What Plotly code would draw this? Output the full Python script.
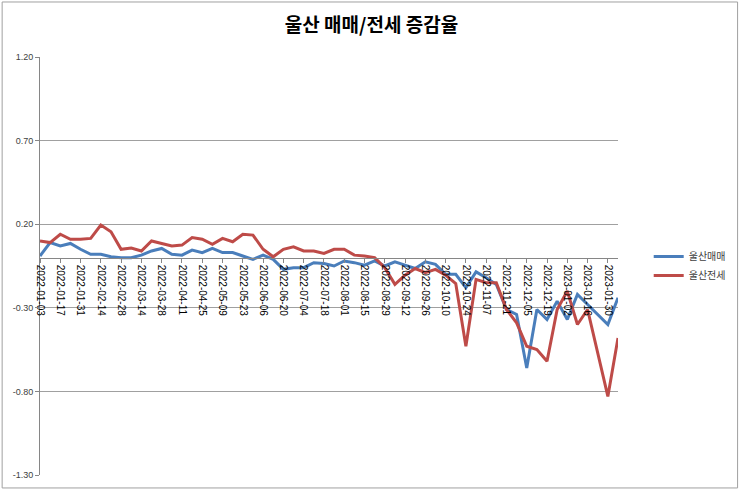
import plotly.graph_objects as go

dates = [
    "2022-01-03", "2022-01-10", "2022-01-17", "2022-01-24", "2022-01-31",
    "2022-02-07", "2022-02-14", "2022-02-21", "2022-02-28",
    "2022-03-07", "2022-03-14", "2022-03-21", "2022-03-28",
    "2022-04-04", "2022-04-11", "2022-04-18", "2022-04-25",
    "2022-05-02", "2022-05-09", "2022-05-16", "2022-05-23", "2022-05-30",
    "2022-06-06", "2022-06-13", "2022-06-20", "2022-06-27",
    "2022-07-04", "2022-07-11", "2022-07-18", "2022-07-25",
    "2022-08-01", "2022-08-08", "2022-08-15", "2022-08-22", "2022-08-29",
    "2022-09-05", "2022-09-12", "2022-09-19", "2022-09-26",
    "2022-10-03", "2022-10-10", "2022-10-17", "2022-10-24", "2022-10-31",
    "2022-11-07", "2022-11-14", "2022-11-21", "2022-11-28",
    "2022-12-05", "2022-12-12", "2022-12-19", "2022-12-26",
    "2023-01-02", "2023-01-09", "2023-01-16", "2023-01-23", "2023-01-30",
    "2023-02-06",
]

sale = [
    0.01, 0.09, 0.07, 0.085, 0.05, 0.02, 0.02, 0.005, 0.00, 0.00,
    0.015, 0.04, 0.055, 0.02, 0.015, 0.045, 0.03, 0.055, 0.03, 0.03,
    0.01, -0.01, 0.015, -0.01, -0.07, -0.06, -0.06, -0.03, -0.035, -0.05,
    -0.02, -0.03, -0.045, -0.02, -0.05, -0.025, -0.045, -0.065, -0.025, -0.04,
    -0.10, -0.10, -0.18, -0.085, -0.12, -0.16, -0.31, -0.34, -0.66, -0.31,
    -0.37, -0.26, -0.37, -0.22, -0.28, -0.34, -0.40, -0.24,
]

jeonse = [
    0.10, 0.09, 0.14, 0.11, 0.11, 0.115, 0.195, 0.155, 0.05, 0.057,
    0.04, 0.10, 0.085, 0.07, 0.075, 0.12, 0.11, 0.08, 0.115, 0.095,
    0.14, 0.135, 0.05, 0.005, 0.05, 0.065, 0.04, 0.04, 0.025, 0.05,
    0.05, 0.015, 0.01, 0.0, -0.06, -0.16, -0.105, -0.065, -0.09, -0.07,
    -0.105, -0.155, -0.53, -0.13, -0.15, -0.15, -0.31, -0.39, -0.53, -0.55,
    -0.62, -0.31, -0.20, -0.40, -0.31, -0.57, -0.83, -0.48,
]

y_ticks = [-1.30, -0.80, -0.30, 0.20, 0.70, 1.20]
y_ticktext = ["-1.30", "-0.80", "-0.30", "0.20", "0.70", "1.20"]
x_ticks = dates[::2]

series_names = ["울산매매", "울산전세"]
colors = ["#4a7ebb", "#be4b48"]

fig = go.Figure()
for name, vals, col in zip(series_names, [sale, jeonse], colors):
    fig.add_trace(go.Scatter(
        x=dates, y=vals, mode="lines", name=name,
        line=dict(color=col, width=3),
    ))

ymin, ymax = -1.30, 1.20
zero_pos = (0 - ymin) / (ymax - ymin)

fig.update_layout(
    width=743, height=492,
    margin=dict(l=40, r=123, t=57, b=17),
    paper_bgcolor="white", plot_bgcolor="white",
    font=dict(family="Liberation Sans, Arial, sans-serif", color="#404040"),
    title=dict(
        text="<b>울산 매매/전세 증감율</b>",
        font=dict(family="Noto Sans CJK KR", size=19, color="#000000"),
        x=0.5, xanchor="center", y=0.949, yanchor="middle",
    ),
    showlegend=True,
    legend=dict(
        x=1.195, y=0.5, xanchor="right", yanchor="middle",
        font=dict(family="Noto Sans CJK KR", size=10, color="#404040"),
        itemwidth=30, tracegroupgap=0, bgcolor="rgba(0,0,0,0)",
    ),
    xaxis=dict(
        type="category",
        range=[0, len(dates) - 1],
        tickmode="array", tickvals=x_ticks, ticktext=x_ticks,
        tickangle=90,
        tickfont=dict(size=10, color="#000000"),
        showgrid=False,
        showline=True, linecolor="#868686", linewidth=1,
        ticks="outside", ticklen=4, tickcolor="#868686",
        anchor="free", position=zero_pos,
        zeroline=False,
    ),
    yaxis=dict(
        range=[ymin, ymax],
        tickmode="array", tickvals=y_ticks, ticktext=y_ticktext,
        tickfont=dict(size=9, color="#404040"),
        showgrid=True, gridcolor="#a0a0a0", gridwidth=1,
        showline=True, linecolor="#868686", linewidth=1,
        ticks="outside", ticklen=4, tickcolor="#868686",
        zeroline=False,
    ),
    shapes=[dict(
        type="rect", xref="paper", yref="paper",
        x0=-0.0655, x1=1.2069, y0=-0.031, y1=1.1316,
        line=dict(color="#a0a0a0", width=1), fillcolor="rgba(0,0,0,0)",
        layer="below",
    )],
)

fig.write_html("out.html")
